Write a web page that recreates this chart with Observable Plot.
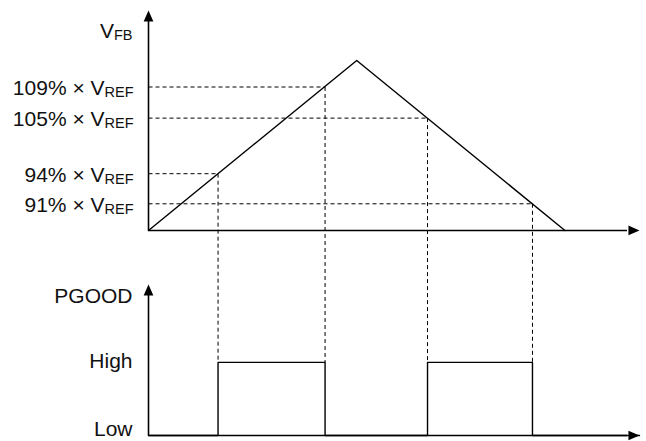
<!DOCTYPE html>
<html>
<head>
<meta charset="utf-8">
<script src="https://cdn.jsdelivr.net/npm/d3@7"></script>
<script src="https://cdn.jsdelivr.net/npm/@observablehq/plot@0.6"></script>
<style>
  html, body { margin: 0; padding: 0; background: #fff; }
  #chart svg { display: block; }
</style>
</head>
<body>
<div id="chart"></div>
<script>
// ---- data ----
const vfbTime = [0, 50, 100];              // V_FB ramp: start, peak, end (time units)
const vfbLevel = [0, 100, 0];              // V_FB level (relative units)
const thresholdLabels = ["109% × V_REF", "105% × V_REF", "94% × V_REF", "91% × V_REF"];
const thresholdLevels = [84.4, 66.1, 33.4, 15.7];
const crossingTimes = [42.4, 67.0, 16.7, 92.2];   // where V_FB crosses each threshold
const pgoodTimes = [0, 16.7, 42.4, 67.0, 92.2, 117.9];
const pgoodStates = [0, 1, 0, 1, 0, 0];
const stateLabels = ["Low", "High"];
const axisNames = ["V_FB", "PGOOD"];

// ---- layout constants (not data) ----
const T_END = 117.9;     // arrow tip of the time axes
const V_TOP = 129.4;     // arrow tip of V_FB axis
const PG_LOW = -120.6;   // PGOOD low level / baseline
const PG_HIGH = -77.6;   // PGOOD high level
const PG_TOP = -31.8;    // arrow tip of PGOOD axis
const NAME_Y = [117.5, -38.4];
const FONT = "'Liberation Sans', Arial, Helvetica, sans-serif";

const pgY = s => PG_LOW + s * (PG_HIGH - PG_LOW);

const vfb = vfbTime.map((t, i) => ({t, v: vfbLevel[i]}));
const thr = thresholdLabels.map((label, i) => ({label, level: thresholdLevels[i], tc: crossingTimes[i]}));
const pg = pgoodTimes.map((t, i) => ({t, y: pgY(pgoodStates[i])}));
const states = stateLabels.map((label, i) => ({label, y: pgY(i)}));
const names = axisNames.map((label, i) => ({label, y: NAME_Y[i]}));

// custom arrowhead symbols with the tip at the origin
const arrowUp = {draw(ctx, size) {
  const h = Math.sqrt(size) * 1.25, w = Math.sqrt(size) * 0.55;
  ctx.moveTo(0, 0); ctx.lineTo(w, h); ctx.lineTo(-w, h); ctx.closePath();
}};
const arrowRight = {draw(ctx, size) {
  const h = Math.sqrt(size) * 1.25, w = Math.sqrt(size) * 0.55;
  ctx.moveTo(0, 0); ctx.lineTo(-h, w); ctx.lineTo(-h, -w); ctx.closePath();
}};

const dash = "4,3";

const plot = Plot.plot({
  width: 646,
  height: 441,
  marginLeft: 148,
  marginRight: 7,
  marginTop: 10,
  marginBottom: 6,
  style: {fontFamily: FONT, background: "white", overflow: "visible"},
  x: {domain: [0, T_END], axis: null},
  y: {domain: [PG_LOW, V_TOP], axis: null},
  marks: [
    // dashed threshold guides
    Plot.link(thr, {x1: 0, x2: "tc", y1: "level", y2: "level", stroke: "#000", strokeWidth: 1, strokeDasharray: dash}),
    Plot.link(thr, {x1: "tc", x2: "tc", y1: "level", y2: PG_HIGH, stroke: "#000", strokeWidth: 1, strokeDasharray: dash}),
    // axes
    Plot.link([0], {x1: 0, x2: 0, y1: 0, y2: V_TOP - 3, stroke: "#000", strokeWidth: 1.6}),
    Plot.link([0], {x1: 0, x2: T_END - 3, y1: 0, y2: 0, stroke: "#000", strokeWidth: 1.6}),
    Plot.link([0], {x1: 0, x2: 0, y1: PG_LOW, y2: PG_TOP - 3, stroke: "#000", strokeWidth: 1.6}),
    Plot.link([0], {x1: 0, x2: T_END - 3, y1: PG_LOW, y2: PG_LOW, stroke: "#000", strokeWidth: 1.6}),
    Plot.dot([{x: 0, y: V_TOP}, {x: 0, y: PG_TOP}], {x: "x", y: "y", symbol: arrowUp, r: 5, fill: "#000", stroke: null}),
    Plot.dot([{x: T_END, y: 0}, {x: T_END, y: PG_LOW}], {x: "x", y: "y", symbol: arrowRight, r: 5, fill: "#000", stroke: null}),
    // V_FB waveform
    Plot.line(vfb, {x: "t", y: "v", stroke: "#000", strokeWidth: 1.4}),
    // PGOOD waveform
    Plot.line(pg, {x: "t", y: "y", curve: "step-after", stroke: "#000", strokeWidth: 1.4}),
    // labels
    Plot.text(thr, {x: 0, y: "level", text: "label", textAnchor: "end", dx: -15, dy: 1.6, fontSize: 21, fill: "#111"}),
    Plot.text(names, {x: 0, y: "y", text: "label", textAnchor: "end", dx: -16, dy: 0.8, fontSize: 21, fill: "#111"}),
    Plot.text(states.filter(d => d.label === "High"), {x: 0, y: "y", text: "label", textAnchor: "end", dx: -16, dy: -0.9, fontSize: 21, fill: "#111"}),
    Plot.text(states.filter(d => d.label === "Low"), {x: 0, y: "y", text: "label", textAnchor: "end", dx: -16, dy: -6.4, fontSize: 21, fill: "#111"})
  ]
});

// turn "X_SUB" into X with a subscript
plot.querySelectorAll("text").forEach(el => {
  const s = el.textContent;
  const k = s.indexOf("_");
  if (k < 0) return;
  el.textContent = "";
  el.appendChild(document.createTextNode(s.slice(0, k)));
  const ts = document.createElementNS("http://www.w3.org/2000/svg", "tspan");
  ts.setAttribute("dy", "2");
  ts.setAttribute("font-size", "14.5");
  ts.textContent = s.slice(k + 1);
  el.appendChild(ts);
});

document.getElementById("chart").appendChild(plot);
</script>
</body>
</html>
